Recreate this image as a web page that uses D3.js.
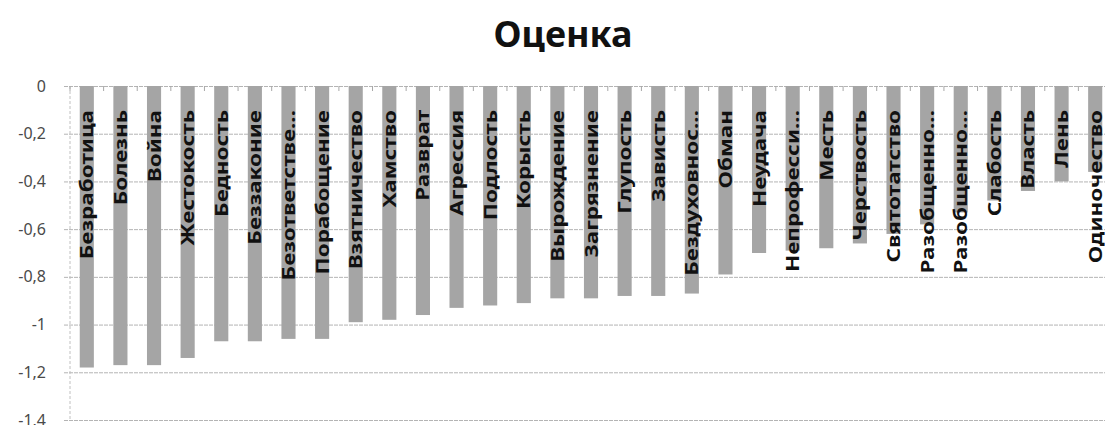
<!DOCTYPE html>
<html>
<head>
<meta charset="utf-8">
<script src="https://cdn.jsdelivr.net/npm/d3@7"></script>
<style>
  body { margin:0; background:#fff; }
  .yAxis text { font-family:"Noto Sans", sans-serif; font-size:16px; fill:#4a4a4a; }
  .yAxis line { stroke:#b4b4b4; stroke-dasharray:4,1; }
  .label { font-family:"Noto Sans", sans-serif; font-size:18px; font-weight:700; fill:#111; }
  .title { font-family:"Noto Sans", sans-serif; font-size:36px; font-weight:700; fill:#111; }
</style>
</head>
<body>
<div id="chart"></div>
<script>
let categories = ["Безработица","Болезнь","Война","Жестокость","Бедность","Беззаконие","Безответстве...",
  "Порабощение","Взятничество","Хамство","Разврат","Агрессия","Подлость","Корысть","Вырождение",
  "Загрязнение","Глупость","Зависть","Бездуховнос...","Обман","Неудача","Непрофесси...","Месть",
  "Черствость","Святотатство","Разобщенно...","Разобщенно...","Слабость","Власть","Лень","Одиночество"];
let values = [-1.18,-1.17,-1.17,-1.14,-1.07,-1.07,-1.06,-1.06,-0.99,-0.98,-0.96,-0.93,-0.92,-0.91,-0.89,
  -0.89,-0.88,-0.88,-0.87,-0.79,-0.70,-0.69,-0.68,-0.66,-0.62,-0.58,-0.53,-0.48,-0.44,-0.40,-0.36];
let yTicks = [0,-0.2,-0.4,-0.6,-0.8,-1,-1.2,-1.4];
let title = "Оценка";

let width = 1105, height = 425,
    margin = { top:86, left:70, right:-7, bottom:5 },
    innerW = width - margin.left - margin.right,
    innerH = height - margin.top - margin.bottom;

let data = categories.map((c,i) => ({ i:i, name:c, value:values[i] }));
let ru = d3.formatLocale({ decimal:",", thousands:" ", grouping:[3], currency:["",""] });
let fmt = d => ru.format("~g")(d).replace("−","-");

let xScale = d3.scaleBand().domain(data.map(d => d.i)).range([0, innerW]).paddingInner(0.58).paddingOuter(0.29);
let yScale = d3.scaleLinear().domain([0,-1.4]).range([0, innerH]);

let svg = d3.select("#chart").append("svg").attr("width",width).attr("height",height);
svg.append("text").attr("class","title").attr("x",563).attr("y",47).attr("text-anchor","middle").text(title);

let g = svg.append("g").attr("transform",`translate(${margin.left},${margin.top})`);

let yAxis = d3.axisLeft(yScale).tickValues(yTicks).tickFormat(fmt).tickSize(-(width - margin.left)).tickPadding(24);
let yGroup = g.append("g").attr("class","yAxis").call(yAxis);
yGroup.select(".domain").remove();
yGroup.selectAll(".tick line").attr("x1",-6);

// vertical axis line
g.append("line").attr("x1",0).attr("x2",0).attr("y1",0).attr("y2",innerH)
  .attr("stroke","#c0c0c0").attr("stroke-dasharray","3,2");

// small category ticks at the zero line
let step = xScale.step();
g.selectAll(".ctick").data(d3.range(categories.length + 1)).enter()
  .append("line").attr("class","ctick")
  .attr("x1",d => d * step).attr("x2",d => d * step)
  .attr("y1",yScale(0)).attr("y2",yScale(0) + 5)
  .attr("stroke","#a8a8a8");

g.selectAll(".bar").data(data).enter()
  .append("rect").attr("class","bar")
  .attr("x",d => xScale(d.i))
  .attr("y",yScale(0))
  .attr("width",xScale.bandwidth())
  .attr("height",d => yScale(d.value) - yScale(0))
  .attr("fill","#a5a5a5");

g.selectAll(".label").data(data).enter()
  .append("text").attr("class","label")
  .attr("transform",d => `translate(${xScale(d.i) + xScale.bandwidth()/2 + 6.5},${yScale(0) + 24}) rotate(-90) scale(1.25,1)`)
  .attr("text-anchor","end")
  .text(d => d.name);
</script>
</body>
</html>
